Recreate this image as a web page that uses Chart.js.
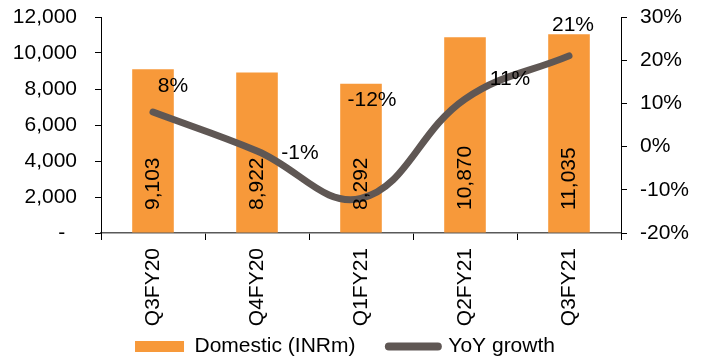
<!DOCTYPE html>
<html>
<head>
<meta charset="utf-8">
<script src="https://cdn.jsdelivr.net/npm/chart.js@4.4.1/dist/chart.umd.min.js"></script>
<style>
  html, body { margin: 0; padding: 0; background: #fff; }
  #wrap { width: 705px; height: 361px; }
</style>
</head>
<body>
<div id="wrap"><canvas id="myChart" width="705" height="361"></canvas></div>
<script>
const quarters = ["Q3FY20", "Q4FY20", "Q1FY21", "Q2FY21", "Q3FY21"];
const domestic = [9103, 8922, 8292, 10870, 11035];
const yoyGrowth = [8, -1, -12, 11, 21];

const orange = "#F7993A";
const grey = "#5F5754";

// where each growth label sits, relative to its point
const growthLabelShift = [[20, -26], [43, 2], [11, -98], [45, -20], [4, -31]];

const fmt = (n) => n.toLocaleString("en-US");

const valueLabels = {
  id: "valueLabels",
  afterDatasetsDraw(chart) {
    const ctx = chart.ctx;
    ctx.save();
    ctx.fillStyle = "#000";
    ctx.font = "21px 'Liberation Sans', Arial, sans-serif";

    // bar values, vertical, from the base up
    const bars = chart.getDatasetMeta(0).data;
    const base = chart.scales.y.getPixelForValue(0);
    bars.forEach((bar, i) => {
      ctx.save();
      ctx.translate(bar.x, base - 23);
      ctx.rotate(-Math.PI / 2);
      ctx.textAlign = "left";
      ctx.textBaseline = "middle";
      ctx.fillText(fmt(domestic[i]), 0, 0);
      ctx.restore();
    });

    // growth percentages
    const pts = chart.getDatasetMeta(1).data;
    ctx.textAlign = "center";
    ctx.textBaseline = "middle";
    pts.forEach((p, i) => {
      const [dx, dy] = growthLabelShift[i];
      ctx.fillText(yoyGrowth[i] + "%", p.x + dx, p.y + dy);
    });
    ctx.restore();
  }
};

// y axes: fixed width, no extra room above the top tick
const fixWidth = (w) => (scale) => {
  scale.width = w;
  scale.paddingTop = 0;
  scale.paddingBottom = 0;
};

Chart.defaults.font.family = "'Liberation Sans', Arial, sans-serif";
Chart.defaults.font.size = 21;
Chart.defaults.color = "#000";

const config = {
  data: {
    labels: quarters,
    datasets: [
      {
        type: "bar",
        label: "Domestic (INRm)",
        data: domestic,
        backgroundColor: orange,
        yAxisID: "y",
        order: 1,
        categoryPercentage: 1,
        barPercentage: 0.4,
      },
      {
        type: "line",
        label: "YoY growth",
        data: yoyGrowth,
        borderColor: grey,
        backgroundColor: grey,
        borderWidth: 7,
        borderCapStyle: "round",
        tension: 0.4,
        pointRadius: 0,
        yAxisID: "y1",
        order: 0,
      },
    ],
  },
  options: {
    responsive: false,
    animation: false,
    layout: { padding: { left: 0, right: 15, top: 17, bottom: -6 } },
    plugins: {
      tooltip: { enabled: false },
      legend: {
        position: "bottom",
        labels: {
          usePointStyle: true,
          pointStyleWidth: 49,
          boxHeight: 11,
          padding: 10,
          color: "#000",
          generateLabels: (chart) => chart.data.datasets.map((ds, i) => ({
            text: i === 0 ? ds.label + "    " : ds.label,
            datasetIndex: i,
            fillStyle: ds.type === "bar" ? orange : grey,
            strokeStyle: grey,
            lineWidth: ds.type === "bar" ? 0 : 8,
            lineCap: "round",
            pointStyle: ds.type === "bar" ? "rect" : "line",
            hidden: false,
          })),
        },
      },
    },
    scales: {
      x: {
        grid: {
          offset: true,
          drawOnChartArea: false,
          tickLength: 7,
          tickColor: "#000",
        },
        border: { color: "#595959", width: 1.5 },
        ticks: { maxRotation: 90, minRotation: 90, padding: 8 },
        afterFit: (scale) => { scale.height = 93; },
      },
      y: {
        position: "left",
        min: 0,
        max: 12000,
        grid: { drawOnChartArea: false, tickLength: 6, tickColor: "#000" },
        border: { color: "#000" },
        ticks: {
          stepSize: 2000,
          padding: 18,
          callback: (v) => (v === 0 ? "-  " : fmt(v)),
        },
        afterFit: fixWidth(101),
      },
      y1: {
        position: "right",
        min: -20,
        max: 30,
        grid: { drawOnChartArea: false, tickLength: 6, tickColor: "#000" },
        border: { color: "#000" },
        ticks: {
          stepSize: 10,
          padding: 13,
          callback: (v) => v + "%",
        },
        afterFit: fixWidth(69),
      },
    },
  },
  plugins: [valueLabels],
};

const myChart = new Chart(document.getElementById("myChart"), config);
</script>
</body>
</html>
